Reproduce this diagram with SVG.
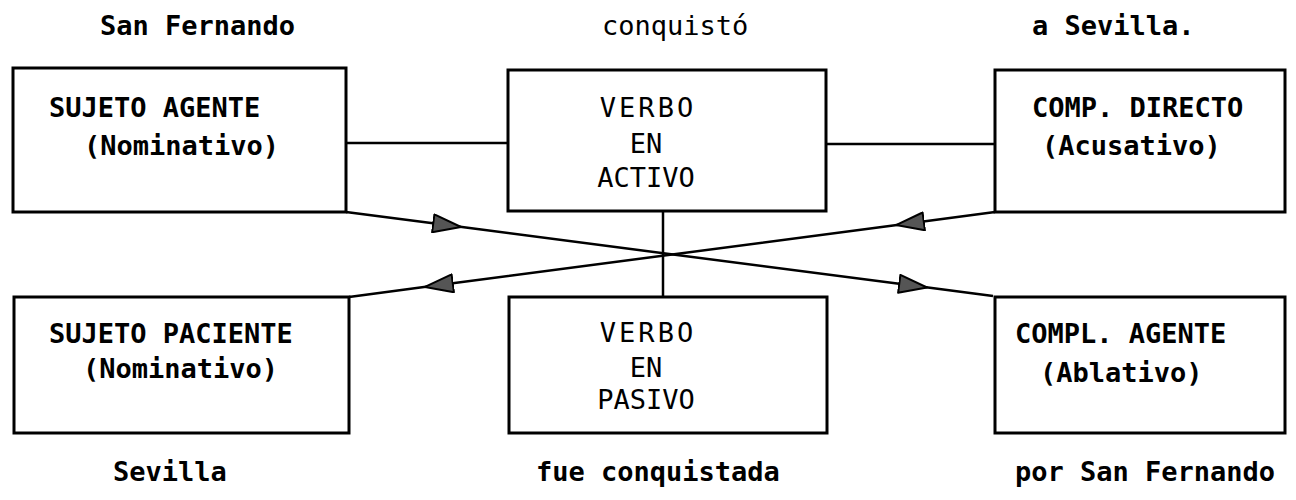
<svg xmlns="http://www.w3.org/2000/svg" width="1296" height="500" viewBox="0 0 1296 500">
<style>
  .box { fill: #fff; stroke: #000; stroke-width: 3; }
  .t { font-family: "DejaVu Sans Mono", "Liberation Mono", monospace; font-size: 27px; fill: #000; font-weight: bold; }
  .n { font-weight: normal; }
  .c { text-anchor: middle; }
  .v { letter-spacing: 3px; }
  .conn { fill: none; stroke: #000; stroke-width: 2.5; }
  .arr { marker-mid: url(#tri); }
</style>
<defs>
  <marker id="tri" viewBox="0 0 30 20" refX="30" refY="10" markerWidth="30" markerHeight="20" markerUnits="userSpaceOnUse" orient="auto">
    <path d="M1,1 L29,10 L1,19 Z" fill="#555" stroke="#000" stroke-width="2" stroke-linejoin="round"/>
  </marker>
</defs>
<rect width="1296" height="500" fill="#fff"/>

<g id="connectors">
  <line class="conn" x1="346" y1="143" x2="508" y2="143"/>
  <line class="conn" x1="826" y1="144" x2="995" y2="144"/>
  <line class="conn" x1="663" y1="211" x2="663" y2="297"/>
  <path class="conn arr" d="M346,212 L462,227.1 L928,287.6 L993,296"/>
  <path class="conn arr" d="M995,212 L895,225.2 L424,287.1 L349,297"/>
</g>

<g id="label-top-1"><text class="t" x="100" y="35">San Fernando</text></g>
<g id="label-top-2"><text class="t n" x="602" y="35">conquistó</text></g>
<g id="label-top-3"><text class="t" x="1032" y="35">a Sevilla.</text></g>

<g id="sujeto-agente">
  <rect class="box" x="13" y="68" width="333" height="144"/>
  <text class="t" x="49" y="117">SUJETO AGENTE</text>
  <text class="t" x="84" y="155">(Nominativo)</text>
</g>
<g id="verbo-activo">
  <rect class="box" x="508" y="70" width="318" height="141"/>
  <text class="t n c v" x="648" y="117">VERBO</text>
  <text class="t n c" x="646" y="153">EN</text>
  <text class="t n c" x="646" y="187">ACTIVO</text>
</g>
<g id="comp-directo">
  <rect class="box" x="995" y="70" width="290" height="142"/>
  <text class="t" x="1032" y="117">COMP. DIRECTO</text>
  <text class="t" x="1042" y="155">(Acusativo)</text>
</g>

<g id="sujeto-paciente">
  <rect class="box" x="14" y="297" width="335" height="136"/>
  <text class="t" x="49" y="343">SUJETO PACIENTE</text>
  <text class="t" x="83" y="378">(Nominativo)</text>
</g>
<g id="verbo-pasivo">
  <rect class="box" x="509" y="297" width="318" height="136"/>
  <text class="t n c v" x="648" y="342">VERBO</text>
  <text class="t n c" x="646" y="377">EN</text>
  <text class="t n c" x="646" y="409">PASIVO</text>
</g>
<g id="compl-agente">
  <rect class="box" x="995" y="297" width="290" height="136"/>
  <text class="t" x="1015" y="343">COMPL. AGENTE</text>
  <text class="t" x="1040" y="382">(Ablativo)</text>
</g>

<g id="label-bottom-1"><text class="t" x="113" y="481">Sevilla</text></g>
<g id="label-bottom-2"><text class="t" x="536" y="481">fue conquistada</text></g>
<g id="label-bottom-3"><text class="t" x="1015" y="481">por San Fernando</text></g>
</svg>
